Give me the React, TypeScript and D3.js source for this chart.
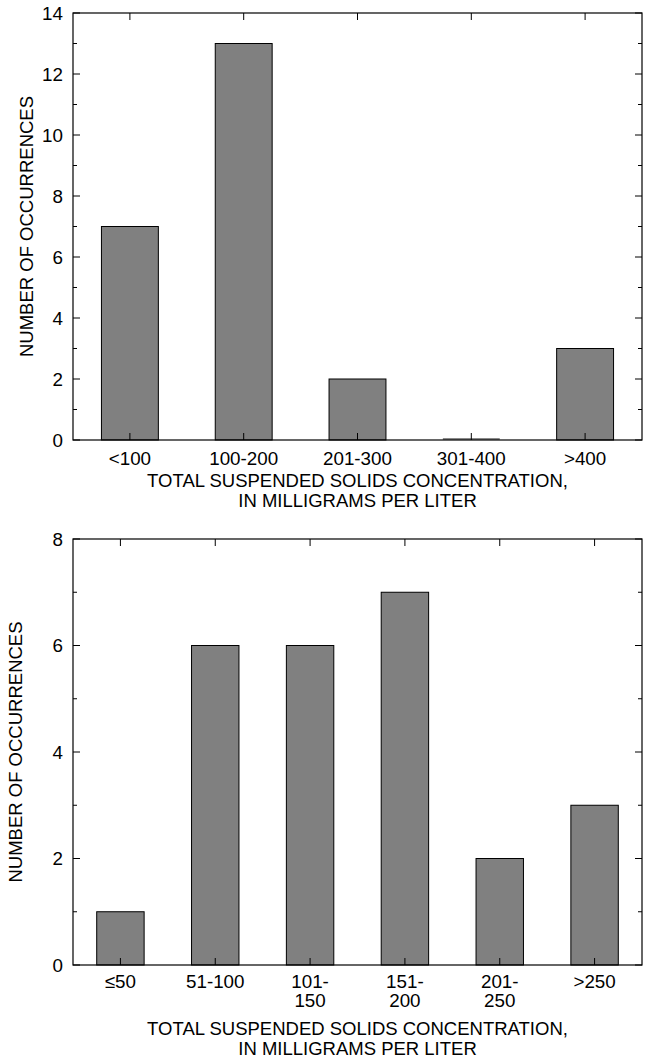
import { useEffect, useRef } from 'react';
import * as d3 from 'd3';

// top panel
const topCategories = ['<100', '100-200', '201-300', '301-400', '>400'];
const topCounts = [7, 13, 2, 0, 3];
const topYTicks = [0, 2, 4, 6, 8, 10, 12, 14];

// bottom panel
const bottomCategories = ['≤50', '51-100', '101-\n150', '151-\n200', '201-\n250', '>250'];
const bottomCounts = [1, 6, 6, 7, 2, 3];
const bottomYTicks = [0, 2, 4, 6, 8];

const xTitle = ['TOTAL SUSPENDED SOLIDS CONCENTRATION,', 'IN MILLIGRAMS PER LITER'];
const yTitle = 'NUMBER OF OCCURRENCES';

const FONT = 'Liberation Sans, Arial, Helvetica, sans-serif';
const TICK_FS = 18.8;
const TITLE_FS = 18.5;

type Panel = {
  cats: string[];
  vals: number[];
  ticks: number[];
  left: number; right: number; top: number; bottom: number;
  yTitleX: number;
  tickLabelY: number;
  titleY: number;
};

function drawPanel(svg: d3.Selection<SVGSVGElement, unknown, null, undefined>, p: Panel) {
  const x = d3.scaleBand().domain(p.cats).range([p.left, p.right]).paddingInner(0.5).paddingOuter(0.25);
  const yMax = p.ticks[p.ticks.length - 1];
  const y = d3.scaleLinear().domain([0, yMax]).range([p.bottom, p.top]);
  const g = svg.append('g');

  // bars (an empty class still shows as a thin grey sliver)
  p.cats.forEach((c, i) => {
    const v = p.vals[i];
    if (v === 0) {
      g.append('rect').attr('x', x(c)!).attr('y', y(0) - 2)
        .attr('width', x.bandwidth()).attr('height', 2).attr('fill', '#8a8a8a');
      return;
    }
    g.append('rect')
      .attr('x', x(c)!).attr('y', y(v))
      .attr('width', x.bandwidth()).attr('height', y(0) - y(v))
      .attr('fill', '#808080').attr('stroke', '#000').attr('stroke-width', 1);
  });

  // frame
  g.append('rect').attr('x', p.left).attr('y', p.top)
    .attr('width', p.right - p.left).attr('height', p.bottom - p.top)
    .attr('fill', 'none').attr('stroke', '#000').attr('stroke-width', 1.2);

  // y ticks (major + minor) on both sides, inward
  const minor = d3.range(1, yMax, 2);
  const tick = (yy: number, len: number) => {
    g.append('line').attr('x1', p.left).attr('x2', p.left + len).attr('y1', yy).attr('y2', yy)
      .attr('stroke', '#000').attr('stroke-width', 1);
    g.append('line').attr('x1', p.right).attr('x2', p.right - len).attr('y1', yy).attr('y2', yy)
      .attr('stroke', '#000').attr('stroke-width', 1);
  };
  p.ticks.forEach(t => {
    tick(y(t), 7);
    g.append('text').attr('x', p.left - 10).attr('y', y(t))
      .attr('dominant-baseline', 'central').attr('text-anchor', 'end')
      .attr('font-family', FONT).attr('font-size', TICK_FS).attr('fill', '#000').text(t);
  });
  minor.forEach(t => tick(y(t), 4));

  // x ticks at category centers, top and bottom, inward
  p.cats.forEach(c => {
    const cx = x(c)! + x.bandwidth() / 2;
    g.append('line').attr('x1', cx).attr('x2', cx).attr('y1', p.bottom).attr('y2', p.bottom - 7)
      .attr('stroke', '#000').attr('stroke-width', 1);
    g.append('line').attr('x1', cx).attr('x2', cx).attr('y1', p.top).attr('y2', p.top + 7)
      .attr('stroke', '#000').attr('stroke-width', 1);
    c.split('\n').forEach((ln, j) => {
      g.append('text').attr('x', cx).attr('y', p.tickLabelY + j * 19.5)
        .attr('dominant-baseline', 'central').attr('text-anchor', 'middle')
        .attr('font-family', FONT).attr('font-size', TICK_FS).attr('fill', '#000').text(ln);
    });
  });

  // x title
  xTitle.forEach((t, j) => {
    g.append('text').attr('x', (p.left + p.right) / 2).attr('y', p.titleY + j * 20.5)
      .attr('dominant-baseline', 'central').attr('text-anchor', 'middle')
      .attr('font-family', FONT).attr('font-size', TITLE_FS).attr('fill', '#000').text(t);
  });

  // y title
  const cy = (p.top + p.bottom) / 2;
  g.append('text').attr('transform', `translate(${p.yTitleX},${cy}) rotate(-90)`)
    .attr('dominant-baseline', 'central').attr('text-anchor', 'middle')
    .attr('font-family', FONT).attr('font-size', TITLE_FS).attr('fill', '#000').text(yTitle);
}

export default function App() {
  const ref = useRef<SVGSVGElement>(null);

  useEffect(() => {
    if (!ref.current) return;
    const svg = d3.select(ref.current);
    svg.selectAll('*').remove();
    drawPanel(svg, {
      cats: topCategories, vals: topCounts, ticks: topYTicks,
      left: 73, right: 642, top: 13, bottom: 440,
      yTitleX: 26, tickLabelY: 458, titleY: 480,
    });
    drawPanel(svg, {
      cats: bottomCategories, vals: bottomCounts, ticks: bottomYTicks,
      left: 73, right: 642, top: 539, bottom: 965,
      yTitleX: 15, tickLabelY: 981, titleY: 1028,
    });
  }, []);

  return (
    <svg ref={ref} width={645} height={1061}
      style={{ position: 'absolute', left: 0, top: 0, background: '#fff' }} />
  );
}
